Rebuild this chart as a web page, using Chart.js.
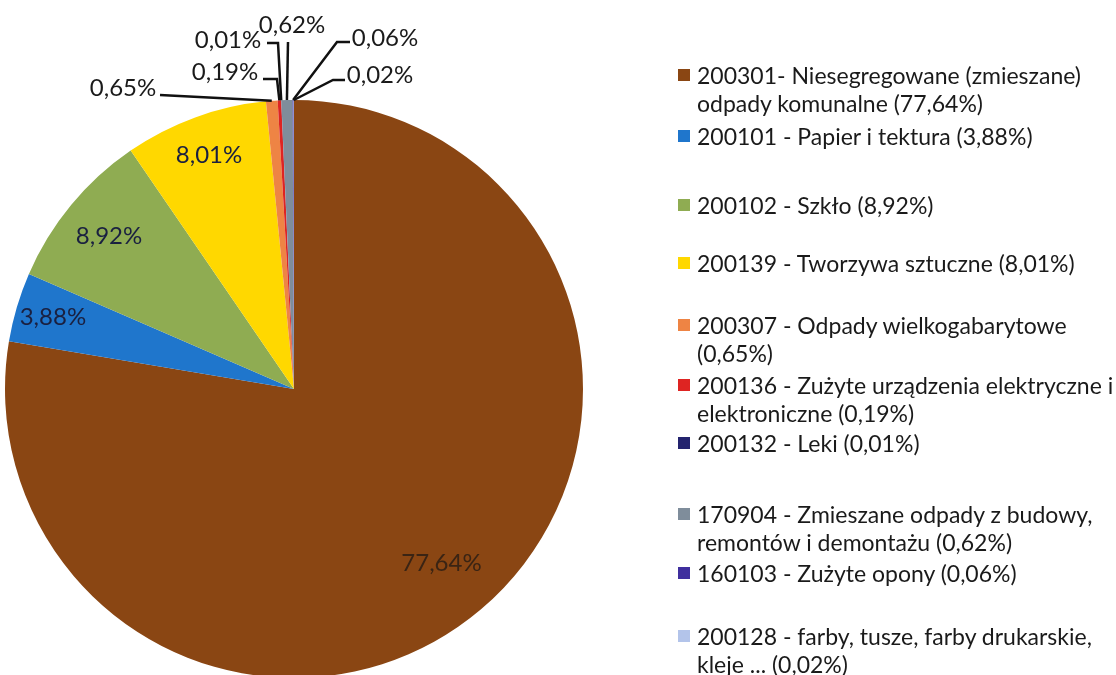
<!DOCTYPE html>
<html>
<head>
<meta charset="utf-8">
<script src="https://cdn.jsdelivr.net/npm/chart.js"></script>
<style>
  html, body { margin: 0; padding: 0; background: #fff; width: 1116px; height: 675px; overflow: hidden; }
  #wrap { position: relative; width: 1116px; height: 675px; overflow: hidden; }
  #pie { position: absolute; left: 0; top: 0; }
  .item { position: absolute; left: 678px; font-family: Lato, "Open Sans", sans-serif; font-size: 23px; line-height: 28px; color: #1a1a1a; white-space: pre; }
  .item .box { position: absolute; left: 0; top: 8px; width: 12px; height: 12px; }
  .item .txt { margin-left: 19px; display: block; }
</style>
</head>
<body>
<div id="wrap">
  <canvas id="pie" width="1116" height="700"></canvas>
  <div id="legend"></div>
</div>
<script>
// data
const codes = ['200301', '200101', '200102', '200139', '200307', '200136', '200132', '170904', '160103', '200128'];
const names = [
  '- Niesegregowane (zmieszane)\nodpady komunalne',
  ' - Papier i tektura',
  ' - Szkło',
  ' - Tworzywa sztuczne',
  ' - Odpady wielkogabarytowe\n',
  ' - Zużyte urządzenia elektryczne i\nelektroniczne',
  ' - Leki',
  ' - Zmieszane odpady z budowy,\nremontów i demontażu',
  ' - Zużyte opony',
  ' - farby, tusze, farby drukarskie,\nkleje ...'
];
const shares = [77.64, 3.88, 8.92, 8.01, 0.65, 0.19, 0.01, 0.62, 0.06, 0.02];
const colors = ['#8a4613', '#1f76cc', '#8fac52', '#ffd800', '#ee8444', '#de2422', '#23236e', '#7f8d9b', '#3f2f9e', '#b3c4ea'];

// layout of legend rows and labels
const legendTops = [61, 122, 191, 249, 311, 371, 429, 500, 559, 622];
const insideLabels = { 0: 0.79, 1: 0.87, 2: 0.83, 3: 0.86 };
// outside labels: text centre and leader line points, relative to pie centre
const outsideLabels = {
  4: { text: [-171, -301], line: [[-134, -294]] },
  5: { text: [-69, -317], line: [[-31, -310], [-17, -310]] },
  6: { text: [-66, -349], line: [[-27, -346], [-16, -346]] },
  7: { text: [-2, -364], line: [[-6, -347]] },
  8: { text: [91, -351], line: [[56, -347], [43, -347]] },
  9: { text: [86, -314], line: [[51, -309], [39, -309]] }
};

function fmt(v) {
  return v.toFixed(2).replace('.', ',') + '%';
}

const pieLabels = {
  id: 'pieLabels',
  afterDatasetsDraw(chart) {
    const ctx = chart.ctx;
    const meta = chart.getDatasetMeta(0);
    ctx.save();
    ctx.font = '24px Lato, "Open Sans", sans-serif';
    ctx.textAlign = 'center';
    ctx.textBaseline = 'middle';
    meta.data.forEach((arc, i) => {
      const mid = (arc.startAngle + arc.endAngle) / 2;
      const r = arc.outerRadius;
      if (insideLabels[i] !== undefined) {
        const f = insideLabels[i];
        ctx.fillStyle = i === 0 ? '#3a2414' : '#1a2040';
        ctx.fillText(fmt(shares[i]), arc.x + Math.cos(mid) * r * f, arc.y + Math.sin(mid) * r * f);
      } else if (outsideLabels[i]) {
        const o = outsideLabels[i];
        ctx.strokeStyle = '#111';
        ctx.lineWidth = 2.5;
        ctx.beginPath();
        ctx.moveTo(arc.x + o.line[0][0], arc.y + o.line[0][1]);
        o.line.slice(1).forEach(p => ctx.lineTo(arc.x + p[0], arc.y + p[1]));
        ctx.lineTo(arc.x + Math.cos(mid) * r, arc.y + Math.sin(mid) * r);
        ctx.stroke();
        ctx.fillStyle = '#1a1a1a';
        ctx.fillText(fmt(shares[i]), arc.x + o.text[0], arc.y + o.text[1]);
      }
    });
    ctx.restore();
  }
};

new Chart(document.getElementById('pie'), {
  type: 'pie',
  data: {
    labels: codes,
    datasets: [{
      data: shares,
      backgroundColor: colors,
      borderWidth: 0
    }]
  },
  options: {
    responsive: false,
    animation: false,
    layout: { padding: { left: 5, right: 533, top: 100, bottom: 22 } },
    plugins: {
      legend: { display: false },
      tooltip: { enabled: false }
    }
  },
  plugins: [pieLabels]
});

// legend on the right
const legend = document.getElementById('legend');
codes.forEach((code, i) => {
  const item = document.createElement('div');
  item.className = 'item';
  item.style.top = legendTops[i] + 'px';
  const box = document.createElement('span');
  box.className = 'box';
  box.style.background = colors[i];
  const txt = document.createElement('span');
  txt.className = 'txt';
  txt.textContent = code + names[i] + (names[i].endsWith('\n') ? '' : ' ') + '(' + fmt(shares[i]) + ')';
  item.appendChild(box);
  item.appendChild(txt);
  legend.appendChild(item);
});
</script>
</body>
</html>
